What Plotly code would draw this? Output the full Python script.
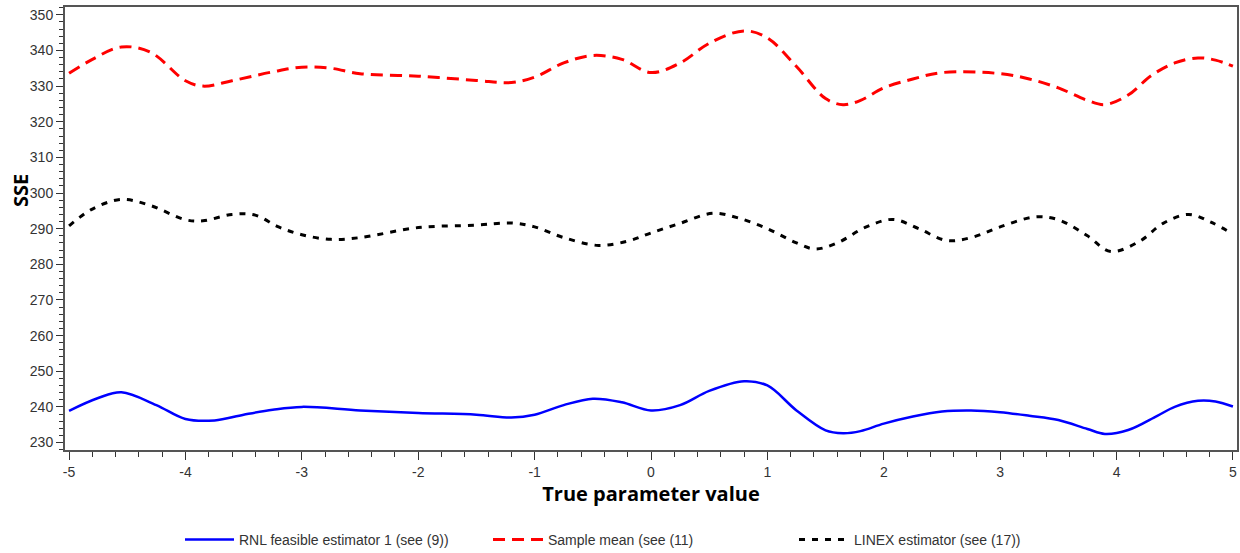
import plotly.graph_objects as go

# Blue: RNL feasible estimator 1
x_rnl = [-5, -4.75, -4.55, -4.25, -4.0, -3.75, -3.5, -3.25, -3.0, -2.5, -2.0, -1.5, -1.2, -1.0,
         -0.75, -0.5, -0.25, 0.0, 0.25, 0.5, 0.8, 1.0, 1.25, 1.5, 1.65, 1.8, 2.0, 2.25, 2.5,
         2.75, 3.0, 3.25, 3.5, 3.75, 3.9, 4.1, 4.35, 4.5, 4.7, 4.85, 5.0]
y_rnl = [238.9, 242.5, 244.1, 240.5, 236.6, 236.2, 237.8, 239.2, 240.0, 239.0, 238.3, 237.8, 237.0, 237.8,
         240.5, 242.3, 241.3, 239.0, 240.5, 244.5, 247.2, 246.0, 239.0, 233.4, 232.6, 233.2, 235.3, 237.3, 238.7,
         239.0, 238.5, 237.5, 236.3, 233.8, 232.4, 233.5, 237.5, 240.0, 241.7, 241.5, 240.1]

# Red: Sample mean
x_mean = [-5, -4.8, -4.55, -4.3, -4.0, -3.85, -3.6, -3.25, -3.0, -2.75, -2.5, -2.0, -1.5, -1.2, -1.0,
          -0.75, -0.5, -0.25, 0.0, 0.25, 0.5, 0.8, 1.0, 1.25, 1.5, 1.65, 1.8, 2.0, 2.25, 2.5, 3.0,
          3.25, 3.5, 3.75, 3.9, 4.1, 4.3, 4.5, 4.7, 4.85, 5.0]
y_mean = [333.6, 337.5, 341.0, 339.5, 331.5, 330.0, 331.5, 334.0, 335.3, 335.0, 333.5, 332.8, 331.6, 331.0, 332.5,
          336.5, 338.6, 337.5, 333.8, 336.5, 342.0, 345.5, 343.5, 335.5, 326.5, 324.8, 326.0, 329.5, 332.0, 333.8, 333.5,
          332.0, 329.5, 326.0, 324.8, 327.5, 333.0, 336.5, 337.9, 337.3, 335.6]

# Black: LINEX estimator
x_linex = [-5, -4.8, -4.55, -4.3, -4.0, -3.85, -3.6, -3.4, -3.2, -3.0, -2.75, -2.5, -2.0, -1.5, -1.2, -1.0,
           -0.75, -0.45, -0.2, 0.0, 0.25, 0.53, 0.75, 1.0, 1.25, 1.41, 1.6, 1.85, 2.08, 2.3, 2.54, 2.75,
           3.0, 3.3, 3.5, 3.75, 3.95, 4.2, 4.4, 4.62, 4.8, 5.0]
y_linex = [290.8, 295.5, 298.2, 296.5, 292.5, 292.2, 294.0, 293.8, 290.5, 288.3, 287.0, 287.5, 290.3, 291.0, 291.6, 290.5,
           287.5, 285.3, 286.5, 288.8, 291.5, 294.3, 293.0, 290.0, 286.0, 284.3, 286.0, 290.5, 292.6, 290.0, 286.7, 287.5,
           290.5, 293.3, 292.5, 288.0, 283.6, 286.5, 291.5, 294.0, 292.0, 288.5]

x_ticks = [-5, -4, -3, -2, -1, 0, 1, 2, 3, 4, 5]
y_ticks = [230, 240, 250, 260, 270, 280, 290, 300, 310, 320, 330, 340, 350]

names = ["RNL feasible estimator 1 (see (9))", "Sample mean (see (11)", "LINEX estimator (see (17))"]

fig = go.Figure()
fig.add_trace(go.Scatter(x=x_rnl, y=y_rnl, mode="lines", name=names[0], legend="legend",
                         line=dict(color="#0000ff", width=2.5, shape="spline", smoothing=1.0)))
fig.add_trace(go.Scatter(x=x_mean, y=y_mean, mode="lines", name=names[1], legend="legend2",
                         line=dict(color="#ff0000", width=3, dash="12px,7px", shape="spline", smoothing=1.0)))
fig.add_trace(go.Scatter(x=x_linex, y=y_linex, mode="lines", name=names[2], legend="legend3",
                         line=dict(color="#000000", width=3, dash="6px,7px", shape="spline", smoothing=1.0)))

tickfont = dict(family="Liberation Sans, Arial, sans-serif", size=14, color="#333333")
legfont = dict(family="Liberation Sans Narrow, Liberation Sans, Arial, sans-serif", size=14, color="#333333")
titlefont = dict(family="Open Sans, DejaVu Sans, sans-serif", size=20, color="#000000")

def leg(xpx, iw):
    return dict(x=xpx / 1240, y=(553 - 540) / 553, xref="container", yref="container",
                xanchor="left", yanchor="middle",
                orientation="h", font=legfont, itemwidth=iw, bgcolor="rgba(0,0,0,0)",
                borderwidth=0, tracegroupgap=0)

fig.update_layout(
    width=1240, height=553,
    margin=dict(l=65, r=3, t=7, b=103, autoexpand=False),
    paper_bgcolor="white", plot_bgcolor="white",
    showlegend=True,
    legend=leg(180, 49),
    legend2=leg(488, 50),
    legend3=leg(794, 50),
    xaxis=dict(
        range=[-5.035, 5.035], tickvals=x_ticks, ticktext=[str(v) for v in x_ticks],
        ticks="outside", ticklen=8, tickwidth=1, tickcolor="#333333",
        minor=dict(dtick=0.2, tick0=0, ticks="outside", ticklen=5, tickcolor="#333333", showgrid=False),
        showline=True, linecolor="#555555", linewidth=2, mirror=True,
        showgrid=False, zeroline=False, tickfont=tickfont, automargin=False,
        ticklabeloverflow="allow",
        title=dict(text="<b>True parameter value</b>", font=titlefont, standoff=5),
    ),
    yaxis=dict(
        range=[227.9, 352.2], tickvals=y_ticks, ticktext=[str(v) for v in y_ticks],
        ticks="outside", ticklen=7, tickwidth=1, tickcolor="#333333",
        minor=dict(dtick=2, tick0=0, ticks="outside", ticklen=4, tickcolor="#333333", showgrid=False),
        showline=True, linecolor="#555555", linewidth=2, mirror=True,
        showgrid=False, zeroline=False, tickfont=tickfont, automargin=False,
        ticklabeloverflow="allow",
    ),
    annotations=[dict(text="<b>SSE</b>", font=titlefont, textangle=-90,
                      xref="paper", yref="paper", x=(20 - 65) / 1172, y=(450 - 191) / 443,
                      xanchor="center", yanchor="middle", showarrow=False)],
)

fig.write_html("out.html", config={"displayModeBar": False},
               post_script="document.body.style.margin='0';document.body.style.padding='0';")
